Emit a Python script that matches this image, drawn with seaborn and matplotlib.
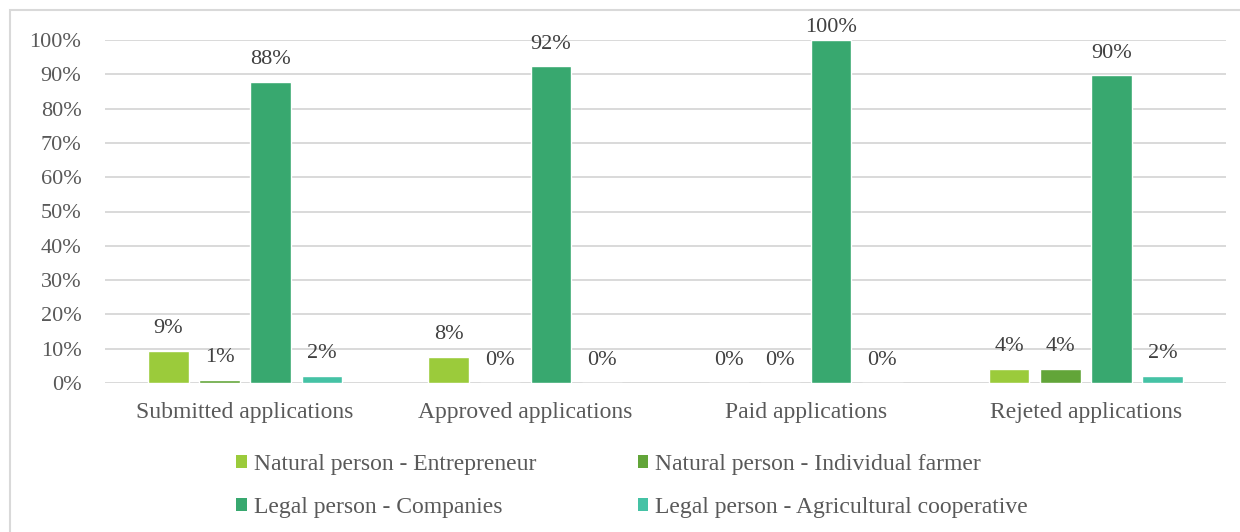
import matplotlib
matplotlib.use("Agg")
import matplotlib.pyplot as plt
from matplotlib.patches import Patch, Rectangle
from matplotlib.ticker import PercentFormatter
import pandas as pd
import seaborn as sns

# Share of applications by applicant type
stages = ["Submitted applications", "Approved applications",
          "Paid applications", "Rejeted applications"]
applicant_types = ["Natural person - Entrepreneur",
                   "Natural person - Individual farmer",
                   "Legal person - Companies",
                   "Legal person - Agricultural cooperative"]
entrepreneur = [0.093, 0.077, 0.0, 0.041]
individual_farmer = [0.010, 0.0, 0.0, 0.041]
companies = [0.878, 0.923, 1.0, 0.897]
cooperative = [0.020, 0.0, 0.0, 0.020]

palette = ["#9BCB3B", "#62A539", "#38A86F", "#45C2A5"]

series = [entrepreneur, individual_farmer, companies, cooperative]
df = pd.DataFrame(
    [(s, t, v) for t, vals in zip(applicant_types, series) for s, v in zip(stages, vals)],
    columns=["stage", "type", "share"],
)

sns.set_theme(style="white")
plt.rcParams["font.family"] = ["Liberation Serif", "DejaVu Serif"]

fig = plt.figure(figsize=(12.4, 5.32), dpi=100)
W, H = 1240, 532
ax = fig.add_axes([105 / W, (H - 383) / H, (1226 - 105) / W, (383 - 40) / H])

# Outer chart frame
fig.patches.append(Rectangle((10 / W, -0.1), 1.2, (H - 10) / H + 0.1,
                             transform=fig.transFigure, fill=False,
                             edgecolor="#D9D9D9", linewidth=1.5, zorder=0))

sns.barplot(data=df, x="stage", y="share", hue="type", order=stages,
            hue_order=applicant_types, palette=palette, width=0.73, gap=0.21,
            saturation=1, legend=False, ax=ax, zorder=3)

ax.set_ylim(0, 1)
ax.set_xlim(-0.5, len(stages) - 0.5)
ax.set_yticks([i / 10 for i in range(11)])
ax.yaxis.set_major_formatter(PercentFormatter(1.0, decimals=0))
ax.grid(axis="y", color="#D9D9D9", linewidth=1.4, zorder=0)
ax.set_axisbelow(True)
for sp in ax.spines.values():
    sp.set_visible(False)
ax.set_xlabel("")
ax.set_ylabel("")
ax.tick_params(axis="y", length=0, pad=17, labelsize=16, labelcolor="#595959")
ax.tick_params(axis="x", length=0, pad=14, labelsize=17, labelcolor="#595959")

# Value labels above each bar
for container, vals in zip(ax.containers, series):
    for bar, v in zip(container, vals):
        x = bar.get_x() + bar.get_width() / 2
        y = min(v + 0.065, 1.035)
        ax.text(x, y, f"{round(v * 100):d}%", ha="center", va="center",
                fontsize=16, color="#404040", clip_on=False, zorder=5)

# Legend laid out row by row (two entries per row)
handles = [Patch(facecolor=c, edgecolor="none") for c in palette]
order = [0, 2, 1, 3]
fig.legend([handles[i] for i in order], [applicant_types[i] for i in order],
           loc="center left", bbox_to_anchor=(236 / W, (H - 486) / H), ncol=2,
           frameon=False, fontsize=17, handlelength=0.45, handleheight=0.45,
           handletextpad=0.3, columnspacing=4.3, labelspacing=0.95,
           borderpad=0, borderaxespad=0, labelcolor="#595959")

fig.savefig("out.png", dpi=100)
